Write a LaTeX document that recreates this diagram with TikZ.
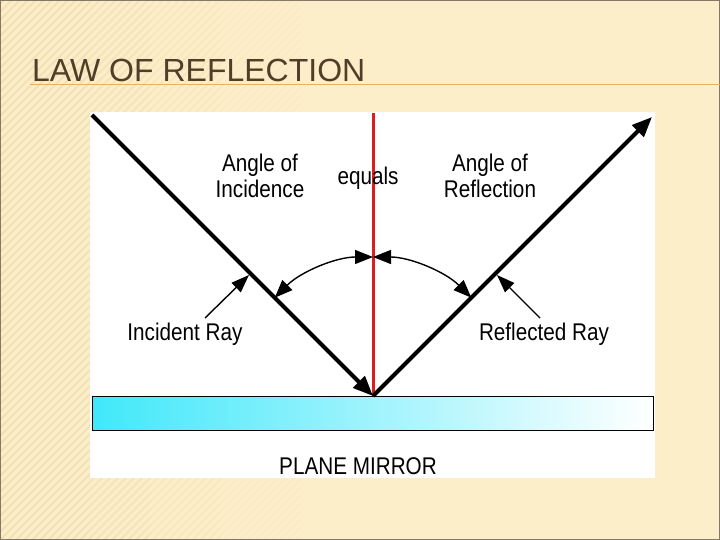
\documentclass[tikz,border=0pt]{standalone}
\usepackage{fontspec}
\setmainfont{Liberation Sans}
\usetikzlibrary{arrows.meta}
\definecolor{bg}{RGB}{252,238,200}
\definecolor{stripe}{RGB}{242,222,175}
\definecolor{titlec}{RGB}{80,62,40}
\definecolor{rulec}{RGB}{228,178,90}
\definecolor{cyanm}{RGB}{64,232,250}
\definecolor{redl}{RGB}{220,30,30}
\tikzset{
 ray/.style={line width=4pt,-{Triangle[length=20pt,width=16pt]}},
 arcarr/.style={line width=1.4pt,{Triangle[length=18pt,width=14pt]}-{Triangle[length=18pt,width=14pt]}},
 ptr/.style={line width=1.4pt,-{Triangle[length=18pt,width=13pt]}},
 lbl/.style={font=\fontsize{23}{25}\selectfont,xscale=0.9,yscale=1.05,align=center,inner sep=0pt},
}
\begin{document}
\begin{tikzpicture}[x=1pt,y=-1pt]
\useasboundingbox (0,0) rectangle (720,540);
\fill[bg] (0,0) rectangle (720,540);
\foreach \w/\o in {300/0.15,220/0.2,150/0.25,90/0.3}{
\begin{scope}
\clip (0,0) rectangle (\w,540);
\foreach \i in {-600,-592,...,800}{
  \draw[stripe,line width=2pt,opacity=\o] (\i,540) -- (\i+540,0);
}
\end{scope}}
\draw[titlec!70,line width=1pt] (0.5,0.5) rectangle (719.5,539.5);
\node[anchor=base west,inner sep=0pt,text=titlec,font=\fontsize{32}{34}\selectfont] (title) at (32,82) {LAW OF REFLECTION};
\coordinate (ul) at (30,84); \coordinate (ur) at (720,84);
\draw[rulec,line width=0.8pt] (ul) -- (ur);
\fill[white] (90,112) rectangle (655,478);
\node[draw=black,line width=1pt,minimum width=561pt,minimum height=34pt,inner sep=0pt,left color=cyanm,right color=white] (mirror) at (372.5,413) {};
\coordinate (O) at (373,396);
\coordinate (rt) at (373,113);
\coordinate (is) at (92,115);
\coordinate (re) at (652,117);
\draw[redl,line width=3pt] (O) -- (rt);
\draw[ray] (is) -- (O);
\draw[ray] (O) -- (re);
\draw[arcarr] (373,257) arc[start angle=-90,end angle=-135,radius=139];
\draw[arcarr] (373,257) arc[start angle=-90,end angle=-45,radius=139];
\coordinate (p1) at (205,318); \coordinate (q1) at (249,275);
\coordinate (p2) at (540,318); \coordinate (q2) at (497,275);
\draw[ptr] (p1) -- (q1);
\draw[ptr] (p2) -- (q2);
\node[lbl] (aoi) at (260,176) {Angle of\\Incidence};
\node[lbl] (eq) at (368,178) {equals};
\node[lbl] (aor) at (490,176) {Angle of\\Reflection};
\node[lbl] (ir) at (185,334) {Incident Ray};
\node[lbl] (rr) at (544,334) {Reflected Ray};
\node[lbl] (pm) at (358,466) {PLANE MIRROR};
\end{tikzpicture}
\end{document}
